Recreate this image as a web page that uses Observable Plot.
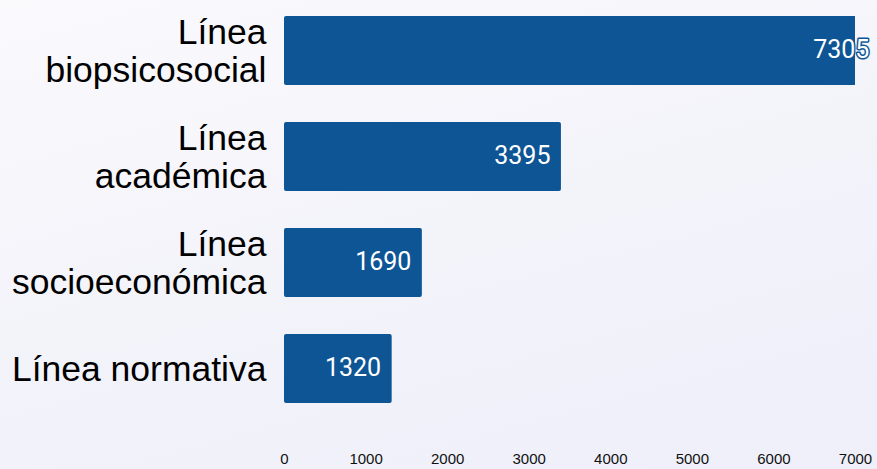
<!DOCTYPE html>
<html><head><meta charset="utf-8">
<script src="https://cdn.jsdelivr.net/npm/d3@7"></script>
<script src="https://cdn.jsdelivr.net/npm/@observablehq/plot@0.6"></script>
<style>
html,body{margin:0;padding:0;}
body{width:877px;height:469px;overflow:hidden;background:linear-gradient(165deg,#fafafd 0%,#f3f3fa 50%,#eeeff9 100%);}
</style>
</head><body><div id="chart"></div>
<script>
const categories = ["Línea\nbiopsicosocial", "Línea\nacadémica", "Línea\nsocioeconómica", "Línea normativa"];
const values = [7305, 3395, 1690, 1320];
const xTicks = [0, 1000, 2000, 3000, 4000, 5000, 6000, 7000];

const data = categories.map((c, i) => ({category: c, value: values[i]}));
const barColor = "#0e5595";

const chart = Plot.plot({
  width: 877,
  height: 469,
  marginLeft: 284,
  marginRight: 22,
  marginTop: 0,
  marginBottom: 51,
  style: {background: "transparent", fontFamily: "'Liberation Sans', Arial, sans-serif", color: "#000"},
  x: {domain: [0, 7000], ticks: xTicks},
  y: {domain: categories, paddingInner: 0.35, paddingOuter: 0.14},
  marks: [
    Plot.barX(data, {x: "value", y: "category", fill: barColor, rx: 2, clip: true}),
    Plot.text(data, {x: "value", y: "category", text: d => String(d.value), textAnchor: "end", dx: -11, dy: -1,
      fill: "white", stroke: barColor, strokeWidth: 3, fontSize: 25, fontFamily: "Roboto, sans-serif"}),
    Plot.axisX({ticks: xTicks, tickFormat: d => String(d), tickSize: 0, tickPadding: 35, fontSize: 15, label: null, fill: "#111"}),
    Plot.axisY({tickSize: 0, tickPadding: 18, fontSize: 35.5, lineHeight: 1.08, label: null, fill: "#000"})
  ]
});
document.getElementById("chart").appendChild(chart);
</script>
</body></html>
